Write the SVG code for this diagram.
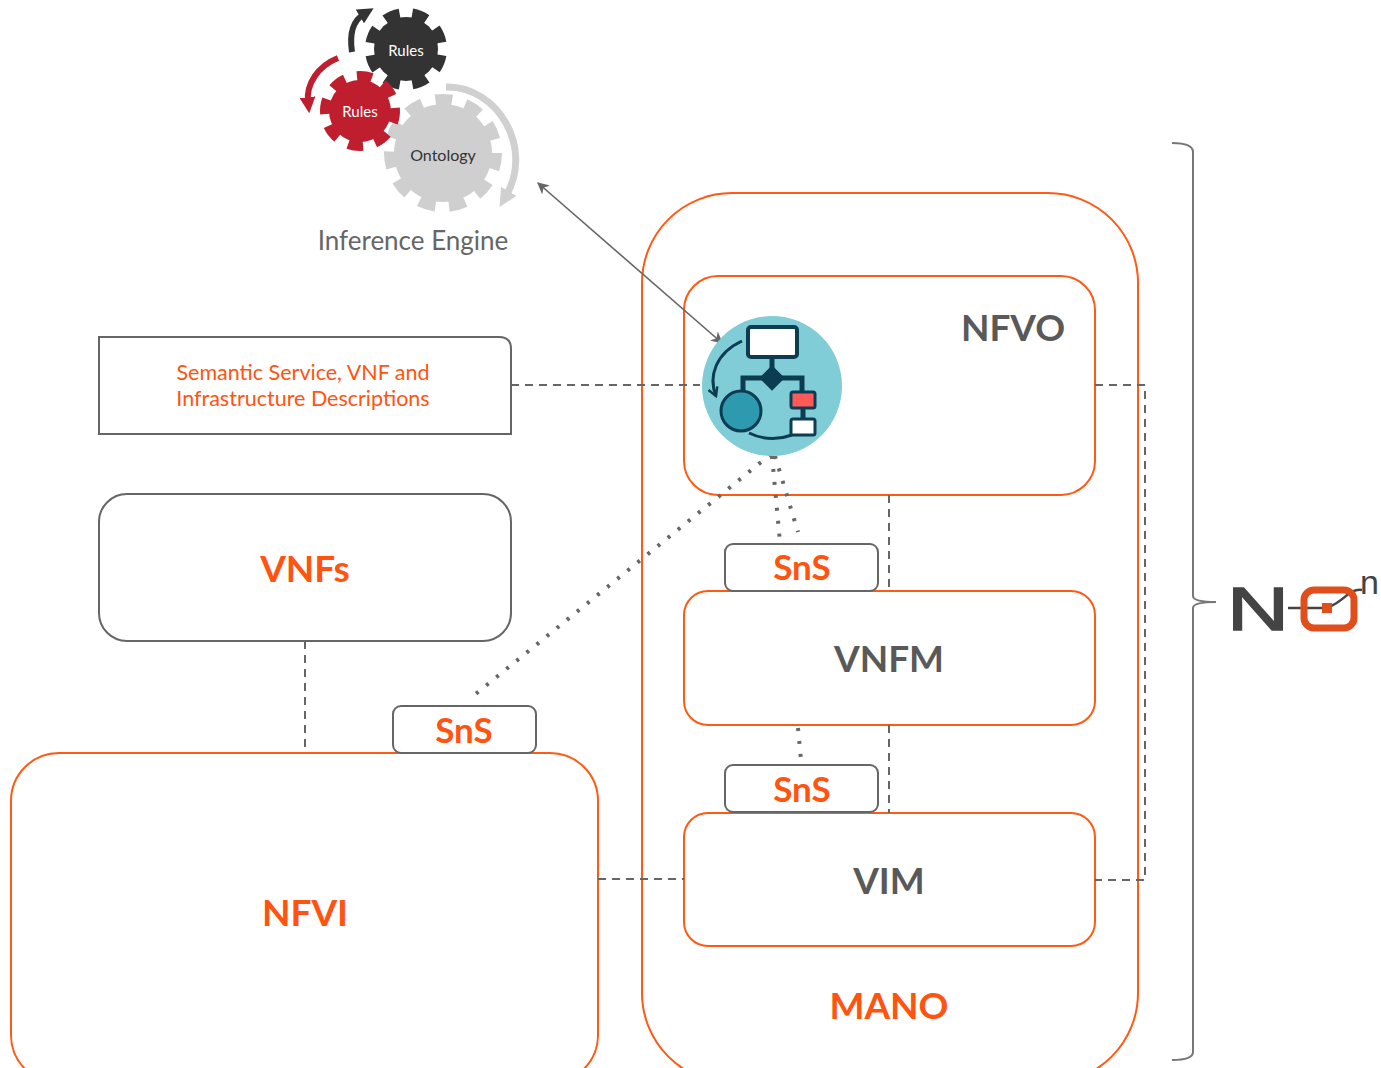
<svg xmlns="http://www.w3.org/2000/svg" width="1381" height="1068" viewBox="0 0 1381 1068">
  <style>
    .orange-box { fill: #ffffff; stroke: #FF5A14; stroke-width: 2; }
    .gray-box { fill: #ffffff; stroke: #666666; stroke-width: 2; }
    .dash { fill: none; stroke: #666666; stroke-width: 2; stroke-dasharray: 8 6; }
    .dot { fill: none; stroke: #666666; stroke-width: 4; stroke-dasharray: 3 10; }
    .t { font-family: Lato, "Liberation Sans", sans-serif; text-anchor: middle; }
    .big-gray { font-size: 37px; font-weight: bold; fill: #595959; }
    .big-orange { font-size: 37px; font-weight: bold; fill: #FF5410; }
    .sns { font-size: 35px; font-weight: bold; fill: #FF5410; }
  </style>
  <defs>
    <marker id="arr" viewBox="0 0 10 10" refX="9" refY="5" markerWidth="12" markerHeight="12" markerUnits="userSpaceOnUse" orient="auto-start-reverse">
      <path d="M0 0 L10 5 L0 10 L3 5 Z" fill="#666666"/>
    </marker>
    <marker id="gearHeadDark" viewBox="0 0 10 10" refX="3" refY="5" markerWidth="16" markerHeight="16" markerUnits="userSpaceOnUse" orient="auto">
      <path d="M0 0 L10 5 L0 10 Z" fill="#333333"/>
    </marker>
    <marker id="gearHeadRed" viewBox="0 0 10 10" refX="3" refY="5" markerWidth="16" markerHeight="16" markerUnits="userSpaceOnUse" orient="auto">
      <path d="M0 0 L10 5 L0 10 Z" fill="#BE1E2D"/>
    </marker>
    <marker id="gearHeadLight" viewBox="0 0 10 10" refX="3" refY="5" markerWidth="18" markerHeight="18" markerUnits="userSpaceOnUse" orient="auto">
      <path d="M0 0 L10 5 L0 10 Z" fill="#D0D0D0"/>
    </marker>
    <marker id="iconHead" viewBox="0 0 10 10" refX="8" refY="5" markerWidth="12" markerHeight="12" markerUnits="userSpaceOnUse" orient="auto">
      <path d="M1 1 L8 5 L1 9" fill="none" stroke="#0C3C52" stroke-width="2"/>
    </marker>
  </defs>

  <rect width="1381" height="1068" fill="#ffffff"/>

  <!-- Inference engine: gears -->
  <g id="inference-engine">
    <path d="M 352 52 C 349 32 354 20 364 14" fill="none" stroke="#333333" stroke-width="6" marker-end="url(#gearHeadDark)"/>
    <path d="M 338 58 C 318 66 306 84 308 102" fill="none" stroke="#BE1E2D" stroke-width="6" marker-end="url(#gearHeadRed)"/>
    <path d="M 446 87 C 498 86 534 148 506 196" fill="none" stroke="#D0D0D0" stroke-width="7" marker-end="url(#gearHeadLight)"/>

    <g id="gear-rules-dark">
      <circle cx="406" cy="49" r="32" fill="#333333"/>
      <circle cx="406" cy="49" r="35" fill="none" stroke="#333333" stroke-width="12" pathLength="16" stroke-dasharray="1.1 0.9" transform="rotate(10 406 49)"/>
      <text class="t" x="406" y="56" font-size="15" fill="#ffffff">Rules</text>
    </g>
    <g id="gear-ontology">
      <circle cx="443" cy="153" r="49" fill="#CFCFCF"/>
      <circle cx="443" cy="153" r="53" fill="none" stroke="#CFCFCF" stroke-width="12" pathLength="22" stroke-dasharray="1.1 0.9"/>
      <text class="t" x="443" y="161" font-size="16" fill="#333333">Ontology</text>
    </g>
    <g id="gear-rules-red">
      <circle cx="360" cy="111" r="31" fill="#BE1E2D"/>
      <circle cx="360" cy="111" r="34" fill="none" stroke="#BE1E2D" stroke-width="12" pathLength="16" stroke-dasharray="1.1 0.9" transform="rotate(-5 360 111)"/>
      <text class="t" x="360" y="117" font-size="15" fill="#ffffff">Rules</text>
    </g>
    <text class="t" x="413" y="250" font-size="26" fill="#666666">Inference Engine</text>
  </g>

  <!-- MANO container -->
  <g id="mano">
    <rect class="orange-box" x="642" y="193" width="496" height="890" rx="90" ry="90"/>
    <text class="t big-orange" x="889" y="1019">MANO</text>
  </g>

  <g id="nfvo">
    <rect class="orange-box" x="684" y="276" width="411" height="219" rx="34"/>
    <text class="t big-gray" x="1013" y="341">NFVO</text>
  </g>

  <g id="vnfm">
    <rect class="orange-box" x="684" y="591" width="411" height="134" rx="24"/>
    <text class="t big-gray" x="889" y="672">VNFM</text>
  </g>

  <g id="vim">
    <rect class="orange-box" x="684" y="813" width="411" height="133" rx="24"/>
    <text class="t big-gray" x="889" y="894">VIM</text>
  </g>

  <g id="descriptions">
    <path class="gray-box" d="M 99 337 H 499 Q 511 337 511 349 V 434 H 99 Z"/>
    <text class="t" x="303" y="380" font-size="21.5" fill="#FF5410">Semantic Service, VNF and</text>
    <text class="t" x="303" y="406" font-size="21.5" fill="#FF5410">Infrastructure Descriptions</text>
  </g>

  <g id="vnfs">
    <rect class="gray-box" x="99" y="494" width="412" height="147" rx="28"/>
    <text class="t big-orange" x="305" y="582">VNFs</text>
  </g>

  <g id="nfvi">
    <rect class="orange-box" x="11" y="753" width="587" height="330" rx="48"/>
    <text class="t big-orange" x="305" y="926">NFVI</text>
  </g>

  <!-- Connectors -->
  <g id="connectors">
    <path class="dash" d="M 511 385 H 700"/>
    <path class="dash" d="M 1095 385 H 1145 V 880 H 1095"/>
    <path class="dash" d="M 889 495 V 591"/>
    <path class="dash" d="M 889 725 V 813"/>
    <path class="dash" d="M 305 641 V 753"/>
    <path class="dash" d="M 598 879 H 684"/>
    <path d="M 538 183 L 722 343" fill="none" stroke="#666666" stroke-width="1.6" marker-start="url(#arr)" marker-end="url(#arr)"/>
    <path class="dot" d="M 771 454 L 472 697"/>
    <path class="dot" d="M 772 456 L 784 585"/>
    <path class="dot" d="M 775 456 L 798 532"/>
    <path class="dot" d="M 798 728 L 801 760"/>
  </g>

  <!-- SnS badges -->
  <g id="sns-nfvo">
    <rect class="gray-box" x="725" y="544" width="153" height="47" rx="8"/>
    <text class="t sns" x="802" y="580">SnS</text>
  </g>
  <g id="sns-vnfm">
    <rect class="gray-box" x="725" y="765" width="153" height="47" rx="8"/>
    <text class="t sns" x="802" y="802">SnS</text>
  </g>
  <g id="sns-nfvi">
    <rect class="gray-box" x="393" y="706" width="143" height="47" rx="8"/>
    <text class="t sns" x="464" y="743">SnS</text>
  </g>

  <!-- Orchestration icon -->
  <g id="nfvo-icon">
    <circle cx="772" cy="386" r="70" fill="#80CDD7"/>
    <rect x="748" y="327" width="49" height="30" rx="3" fill="#ffffff" stroke="#0C3C52" stroke-width="4"/>
    <path d="M 772 357 V 368" stroke="#0C3C52" stroke-width="5"/>
    <rect x="763" y="369" width="18" height="18" fill="#0C3C52" transform="rotate(45 772 378)"/>
    <path d="M 762 378 H 743 V 392 M 782 378 H 802 V 393 M 803 408 V 420" fill="none" stroke="#0C3C52" stroke-width="5"/>
    <circle cx="741" cy="411" r="20" fill="#2E9AAF" stroke="#0C3C52" stroke-width="3"/>
    <rect x="791" y="392" width="24" height="16" rx="2" fill="#FF5A5A" stroke="#0C3C52" stroke-width="3"/>
    <rect x="791" y="419" width="24" height="16" rx="2" fill="#ffffff" stroke="#0C3C52" stroke-width="3"/>
    <path d="M 742 341 C 716 353 708 376 716 396" fill="none" stroke="#0C3C52" stroke-width="3" marker-end="url(#iconHead)"/>
    <path d="M 749 433 Q 770 443 792 435" fill="none" stroke="#0C3C52" stroke-width="3"/>
  </g>

  <!-- Bracket -->
  <g id="bracket">
    <path d="M 1172 143 Q 1193 143 1193 152 V 596 Q 1193 602 1216 602 Q 1193 602 1193 608 V 1052 Q 1193 1060 1172 1060" fill="none" stroke="#777777" stroke-width="2"/>
  </g>

  <!-- NOn logo -->
  <g id="logo">
    <text x="1227" y="630" font-family="'Liberation Sans', sans-serif" font-size="62" fill="#444444" stroke="#444444" stroke-width="1.5" textLength="62" lengthAdjust="spacingAndGlyphs">N</text>
    <path d="M 1288 608 H 1324 M 1331 606 C 1345 600 1350 588 1362 590" fill="none" stroke="#444444" stroke-width="2.5"/>
    <rect x="1304" y="590" width="50" height="38" rx="10" fill="none" stroke="#E04E1B" stroke-width="7"/>
    <rect x="1322" y="603" width="10" height="10" fill="#E04E1B"/>
    <text x="1360" y="594" font-family="'Liberation Sans', sans-serif" font-size="34" fill="#444444">n</text>
  </g>
</svg>
